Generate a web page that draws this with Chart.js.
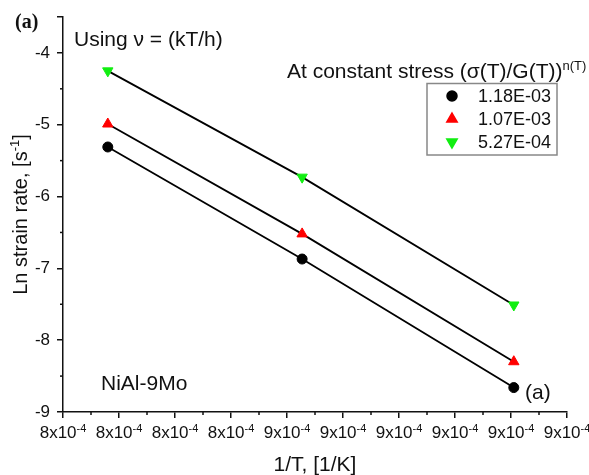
<!DOCTYPE html>
<html>
<head>
<meta charset="utf-8">
<script src="https://cdn.jsdelivr.net/npm/chart.js@4.4.1/dist/chart.umd.min.js"></script>
<style>
html, body { margin: 0; padding: 0; background: #fff; }
#wrap { width: 589px; height: 475px; }
</style>
</head>
<body>
<div id="wrap"><canvas id="grafica_creep" width="589" height="475"></canvas></div>
<script>
// 1/T, [1/K]
var invTemp = [0.000818, 0.0008527, 0.0008905];
// Ln strain rate for each normalised stress level
var lnRate118 = [-5.31, -6.87, -8.66];
var lnRate107 = [-4.99, -6.52, -8.30];
var lnRate527 = [-4.25, -5.73, -7.51];
var seriesLabels = ['1.18E-03', '1.07E-03', '5.27E-04'];
var xTickLabels = ['8', '8', '8', '8', '9', '9', '9', '9', '9', '9'];
var yTickLabels = ['-9', '-8', '-7', '-6', '-5', '-4'];

const FONT = 'Arial, "Liberation Sans", sans-serif';

const pts = (ys) => invTemp.map((x, i) => ({ x: x, y: ys[i] }));

// text with a raised superscript part
const drawSup = (ctx, x, y, main, sup, size, supSize, raise, align) => {
    ctx.font = size + 'px ' + FONT;
    const w1 = ctx.measureText(main).width;
    ctx.font = supSize + 'px ' + FONT;
    const w2 = ctx.measureText(sup).width;
    let x0 = x;
    if (align === 'center') x0 = x - (w1 + w2) / 2;
    ctx.textAlign = 'left';
    ctx.font = size + 'px ' + FONT;
    ctx.fillText(main, x0, y);
    ctx.font = supSize + 'px ' + FONT;
    ctx.fillText(sup, x0 + w1, y - raise);
};

const extras = {
    id: 'extras',
    afterDraw(chart) {
        const ctx = chart.ctx;
        const xs = chart.scales.x, ys = chart.scales.y;
        const area = chart.chartArea;
        ctx.save();
        ctx.fillStyle = '#111';
        ctx.strokeStyle = '#111';
        ctx.lineWidth = 1.5;

        // minor ticks
        const xt = xs.ticks;
        for (let i = 0; i < xt.length - 1; i++) {
            const px = xs.getPixelForValue((xt[i].value + xt[i + 1].value) / 2);
            ctx.beginPath(); ctx.moveTo(px, area.bottom); ctx.lineTo(px, area.bottom + 3); ctx.stroke();
        }
        for (let v = -8.5; v <= -4.5; v += 1) {
            const py = ys.getPixelForValue(v);
            ctx.beginPath(); ctx.moveTo(area.left, py); ctx.lineTo(area.left - 3, py); ctx.stroke();
        }

        // tick labels
        ctx.textBaseline = 'alphabetic';
        xt.forEach((t, i) => {
            drawSup(ctx, xs.getPixelForValue(t.value), 438, xTickLabels[i] + 'x10', '-4', 17, 11, 6, 'center');
        });
        ctx.font = '17px ' + FONT;
        ctx.textAlign = 'right';
        ctx.textBaseline = 'middle';
        yTickLabels.forEach((lab) => {
            ctx.fillText(lab, area.left - 13, ys.getPixelForValue(parseFloat(lab)));
        });

        // axis titles
        ctx.textBaseline = 'alphabetic';
        ctx.font = '21px ' + FONT;
        ctx.textAlign = 'center';
        ctx.fillText('1/T, [1/K]', (area.left + area.right) / 2, 471);

        ctx.save();
        ctx.translate(27, (area.top + area.bottom) / 2);
        ctx.rotate(-Math.PI / 2);
        ctx.font = '20px ' + FONT;
        const a = 'Ln strain rate, [s', b = '-1', c = ']';
        const wa = ctx.measureText(a).width, wc = ctx.measureText(c).width;
        ctx.font = '13px ' + FONT;
        const wb = ctx.measureText(b).width;
        let x0 = -(wa + wb + wc) / 2;
        ctx.textAlign = 'left';
        ctx.font = '20px ' + FONT;
        ctx.fillText(a, x0, 0);
        ctx.font = '13px ' + FONT;
        ctx.fillText(b, x0 + wa, -8);
        ctx.font = '20px ' + FONT;
        ctx.fillText(c, x0 + wa + wb, 0);
        ctx.restore();

        // annotations
        ctx.textAlign = 'left';
        ctx.font = 'bold 20px "Liberation Serif", "Times New Roman", serif';
        ctx.fillText('(a)', 15, 28);
        ctx.font = '21px ' + FONT;
        ctx.fillText('Using \u03bd = (kT/h)', 74, 46);
        ctx.fillText('NiAl-9Mo', 101, 390);
        ctx.fillText('(a)', 525, 399);
        drawSup(ctx, 287, 78, 'At constant stress (\u03c3(T)/G(T))', 'n(T)', 21, 13, 8, 'left');

        // legend box
        ctx.strokeStyle = '#888';
        ctx.lineWidth = 1.5;
        ctx.strokeRect(427, 83.5, 130, 71.5);
        const rowsY = [96, 119, 142];
        chart.data.datasets.forEach((ds, i) => {
            ctx.fillStyle = ds.pointBackgroundColor;
            ctx.strokeStyle = ds.pointBackgroundColor;
            Chart.helpers.drawPoint(ctx, {
                pointStyle: ds.pointStyle,
                radius: ds.pointRadius,
                rotation: ds.rotation || 0,
                borderWidth: 1
            }, 452, rowsY[i]);
            ctx.fillStyle = '#111';
            ctx.font = '18px ' + FONT;
            ctx.textBaseline = 'middle';
            ctx.fillText(seriesLabels[i], 478, rowsY[i] + 1);
        });
        ctx.restore();
    }
};

const serie = (label, ys, color, style, radius, rotation) => ({
    label: label,
    data: pts(ys),
    showLine: true,
    borderColor: '#000',
    borderWidth: 1.8,
    pointBackgroundColor: color,
    pointBorderColor: color,
    pointBorderWidth: 1,
    pointStyle: style,
    pointRadius: radius,
    rotation: rotation
});

var ctx = document.getElementById('grafica_creep').getContext('2d');
var chart = new Chart(ctx, {
    type: 'scatter',
    data: {
        datasets: [
            serie(seriesLabels[0], lnRate118, '#000000', 'circle', 5, 0),
            serie(seriesLabels[1], lnRate107, '#ff0000', 'triangle', 6, 0),
            serie(seriesLabels[2], lnRate527, '#11ee11', 'triangle', 6, 180)
        ]
    },
    options: {
        responsive: false,
        animation: false,
        layout: { padding: { top: 17, right: 22, left: 0, bottom: 0 } },
        plugins: { legend: { display: false }, tooltip: { enabled: false } },
        scales: {
            x: {
                type: 'linear',
                min: 0.00081,
                max: 0.0009,
                ticks: { display: false, stepSize: 0.00001 },
                grid: { drawOnChartArea: false, color: '#111', tickLength: 6, lineWidth: 1.5 },
                border: { color: '#111', width: 1.5 },
                afterFit: (s) => { s.height = 63; }
            },
            y: {
                min: -9,
                max: -3.5,
                ticks: { display: false, stepSize: 1 },
                grid: { drawOnChartArea: false, color: '#111', tickLength: 6, lineWidth: 1.5 },
                border: { color: '#111', width: 1.5 },
                afterFit: (s) => { s.width = 63; }
            }
        }
    },
    plugins: [extras]
});
</script>
</body>
</html>
